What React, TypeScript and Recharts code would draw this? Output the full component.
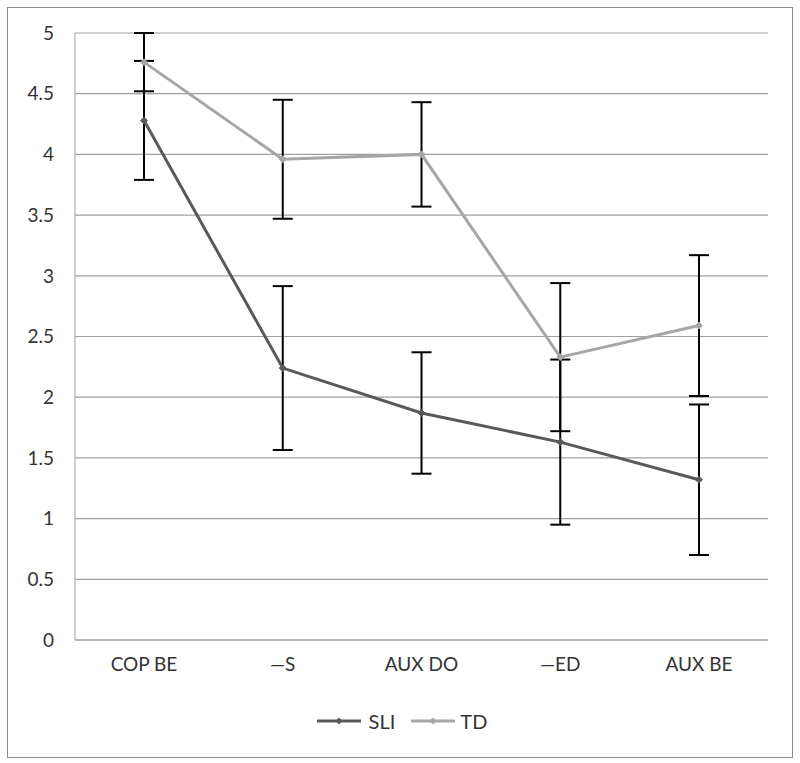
import React from "react";
import { LineChart, Line, XAxis, YAxis, CartesianGrid, ErrorBar, Legend } from "recharts";

const categories = ["COP BE", "\u2014S", "AUX DO", "\u2014ED", "AUX BE"];
const sliValues = [4.28, 2.24, 1.87, 1.63, 1.32];
const sliErrors = [0.49, 0.675, 0.5, 0.68, 0.62];
const tdValues = [4.76, 3.96, 4.0, 2.33, 2.59];
const tdErrors = [0.24, 0.49, 0.43, 0.61, 0.58];
const yTicks = [0, 0.5, 1, 1.5, 2, 2.5, 3, 3.5, 4, 4.5, 5];

const data = categories.map((c, i) => ({
  name: c,
  SLI: sliValues[i],
  sliErr: sliErrors[i],
  TD: tdValues[i],
  tdErr: tdErrors[i],
}));

const SLI_COLOR = "#595959";
const TD_COLOR = "#a6a6a6";
const FONT = "Lato, 'Open Sans', sans-serif";
const TEXT_COLOR = "#333333";

const diamond = (color: string) => (props: any) => {
  const { cx, cy, index } = props;
  if (cx == null || cy == null) return <g key={index} />;
  const s = 3.5;
  return (
    <polygon
      key={index}
      points={`${cx},${cy - s} ${cx + s},${cy} ${cx},${cy + s} ${cx - s},${cy}`}
      fill={color}
      stroke={color}
    />
  );
};

const renderLegend = (props: any) => {
  const { payload } = props;
  return (
    <div style={{ display: "flex", justifyContent: "center", alignItems: "center", fontFamily: FONT, fontSize: 20, color: TEXT_COLOR }}>
      {payload.map((p: any, i: number) => (
        <div key={i} style={{ display: "flex", alignItems: "center", marginRight: i === 0 ? 16 : 0 }}>
          <svg width={44} height={10} style={{ marginRight: i === 0 ? 8 : 5 }}>
            <line x1={0} y1={5} x2={44} y2={5} stroke={p.color} strokeWidth={3} />
            <polygon points="22,1.5 25.5,5 22,8.5 18.5,5" fill={p.color} />
          </svg>
          <span>{p.value}</span>
        </div>
      ))}
    </div>
  );
};

export default function App() {
  return (
    <div style={{ position: "absolute", left: 7, top: 7, width: 784, height: 749, border: "1px solid #8c8c8c", background: "#fff" }}>
      <LineChart
        width={784}
        height={749}
        data={data}
        margin={{ top: 25, right: 24, left: 0, bottom: 57 }}
      >
        <CartesianGrid vertical={false} stroke="#a0a0a0" strokeWidth={1.2} />
        <XAxis
          dataKey="name"
          height={40}
          padding={{ left: 69, right: 69 }}
          tickLine={false}
          axisLine={{ stroke: "#a0a0a0" }}
          tick={{ fontFamily: FONT, fontSize: 19, fill: TEXT_COLOR }}
          tickMargin={12}
        />
        <YAxis
          width={67}
          domain={[0, 5]}
          ticks={yTicks}
          tickLine={false}
          tickSize={0}
          tickMargin={21}
          axisLine={{ stroke: "#a0a0a0" }}
          tick={{ fontFamily: FONT, fontSize: 19, fill: TEXT_COLOR }}
        />
        <Legend content={renderLegend} verticalAlign="bottom" height={20} wrapperStyle={{ bottom: 28, left: 14 }} />
        <Line
          dataKey="SLI"
          stroke={SLI_COLOR}
          strokeWidth={3}
          dot={diamond(SLI_COLOR)}
          activeDot={false}
          isAnimationActive={false}
        >
          <ErrorBar dataKey="sliErr" direction="y" width={10} stroke="#000" strokeWidth={2} />
        </Line>
        <Line
          dataKey="TD"
          stroke={TD_COLOR}
          strokeWidth={3}
          dot={diamond(TD_COLOR)}
          activeDot={false}
          isAnimationActive={false}
        >
          <ErrorBar dataKey="tdErr" direction="y" width={10} stroke="#000" strokeWidth={2} />
        </Line>
      </LineChart>
    </div>
  );
}
